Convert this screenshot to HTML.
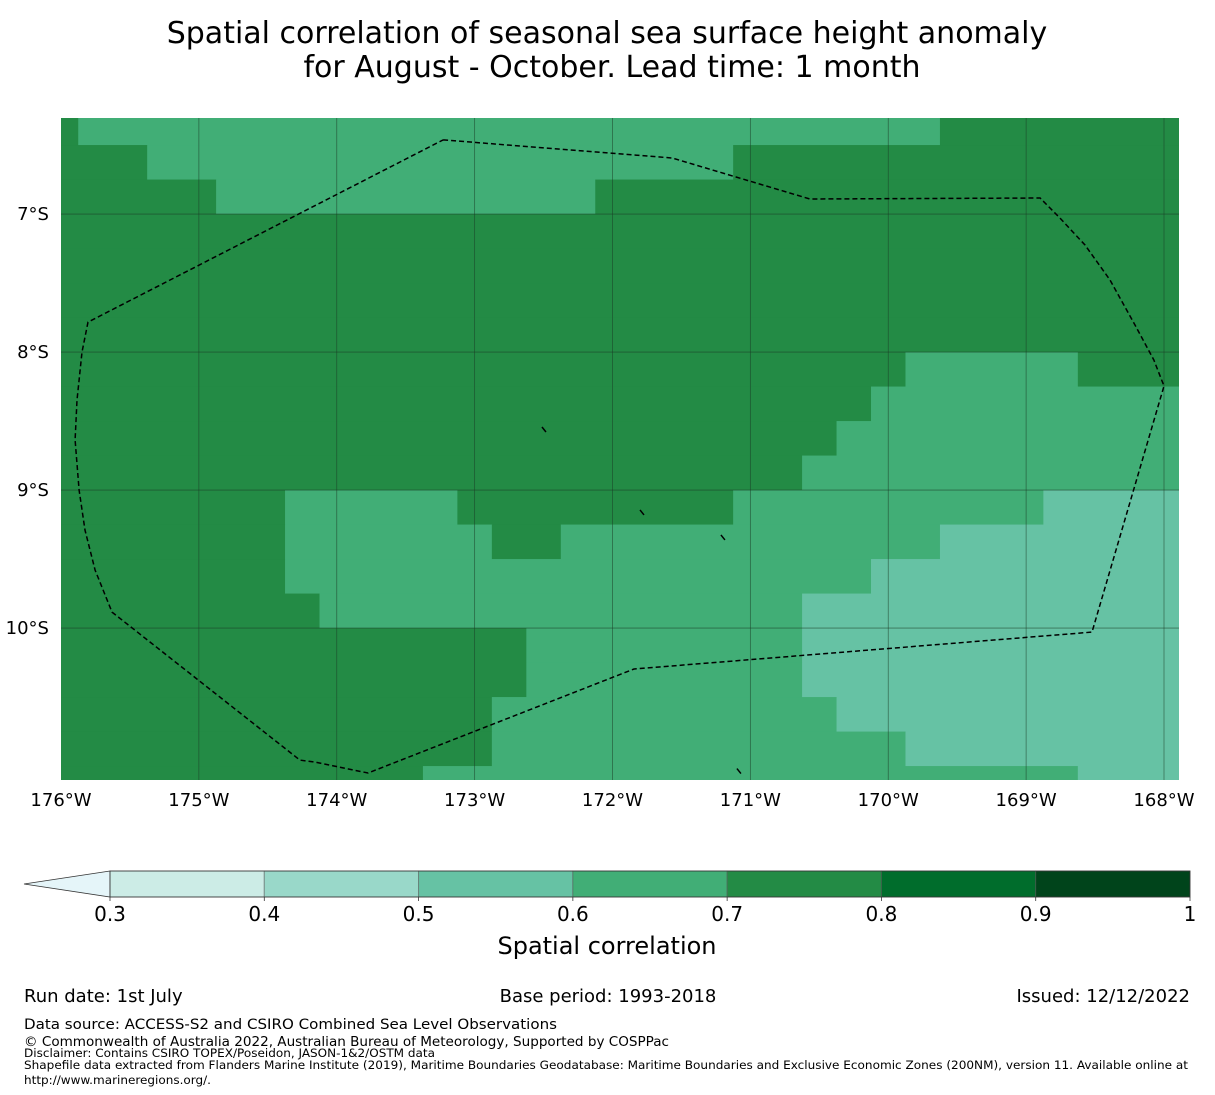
<!DOCTYPE html>
<html><head><meta charset="utf-8"><style>
html,body{margin:0;padding:0;background:#fff;}
svg{display:block;font-family:"DejaVu Sans","Liberation Sans",sans-serif;}
</style></head><body>
<svg id="fig" width="1215" height="1095" viewBox="0 0 1215 1095" xmlns="http://www.w3.org/2000/svg">
<g>
<text x="607" y="43" font-size="30" text-anchor="middle">Spatial correlation of seasonal sea surface height anomaly</text>
<text x="612" y="77" font-size="30" text-anchor="middle">for August - October. Lead time: 1 month</text>
</g>
<g id="map"></g>
<g id="grid"></g>
<path id="eez" fill="none" stroke="#000" stroke-width="1.5" stroke-dasharray="5,3"/>
<g id="islands"></g>
<g id="xticks"></g>
<g id="yticks"></g>
<g id="cbar"></g>
<text x="607" y="954" font-size="24" text-anchor="middle">Spatial correlation</text>
<g font-size="18">
<text x="24" y="1002">Run date: 1st July</text>
<text x="608" y="1002" text-anchor="middle">Base period: 1993-2018</text>
<text x="1190" y="1002" text-anchor="end">Issued: 12/12/2022</text>
<text x="24" y="1029" font-size="14.5" textLength="533" lengthAdjust="spacingAndGlyphs">Data source: ACCESS-S2 and CSIRO Combined Sea Level Observations</text>
<text x="24" y="1046" font-size="13" textLength="645" lengthAdjust="spacingAndGlyphs">© Commonwealth of Australia 2022, Australian Bureau of Meteorology, Supported by COSPPac</text>
<text x="24" y="1057" font-size="11.5" textLength="411" lengthAdjust="spacingAndGlyphs">Disclaimer: Contains CSIRO TOPEX/Poseidon, JASON-1&amp;2/OSTM data</text>
<text x="24" y="1069" font-size="11.5" textLength="1164" lengthAdjust="spacingAndGlyphs">Shapefile data extracted from Flanders Marine Institute (2019), Maritime Boundaries Geodatabase: Maritime Boundaries and Exclusive Economic Zones (200NM), version 11. Available online at</text>
<text x="24" y="1084" font-size="11.5" textLength="187" lengthAdjust="spacingAndGlyphs">http://www.marineregions.org/.</text>
</g>
</svg>
<script>
// ---- data ----
const lonTicks = [-176,-175,-174,-173,-172,-171,-170,-169,-168];
const lonLabels = ["176°W","175°W","174°W","173°W","172°W","171°W","170°W","169°W","168°W"];
const latTicks = [-7,-8,-9,-10];
const latLabels = ["7°S","8°S","9°S","10°S"];
const cbBounds = [0.3,0.4,0.5,0.6,0.7,0.8,0.9,1.0];
const cbLabels = ["0.3","0.4","0.5","0.6","0.7","0.8","0.9","1"];
const cbColors = ["#ccece6","#99d8c9","#66c2a4","#41ae76","#238b45","#006d2c","#00441b"];
// grid rows (top to bottom), runs of [end column index (0..33), class]
// D = 0.7-0.8, M = 0.6-0.7, L = 0.5-0.6
const gridRows = [
 [[1,'D'],[26,'M'],[33,'D']],
 [[3,'D'],[20,'M'],[33,'D']],
 [[5,'D'],[16,'M'],[33,'D']],
 [[33,'D']],
 [[33,'D']],
 [[33,'D']],
 [[33,'D']],
 [[25,'D'],[30,'M'],[33,'D']],
 [[24,'D'],[33,'M']],
 [[23,'D'],[33,'M']],
 [[22,'D'],[33,'M']],
 [[7,'D'],[12,'M'],[20,'D'],[29,'M'],[33,'L']],
 [[7,'D'],[13,'M'],[15,'D'],[26,'M'],[33,'L']],
 [[7,'D'],[24,'M'],[33,'L']],
 [[8,'D'],[22,'M'],[33,'L']],
 [[14,'D'],[22,'M'],[33,'L']],
 [[14,'D'],[22,'M'],[33,'L']],
 [[13,'D'],[23,'M'],[33,'L']],
 [[13,'D'],[25,'M'],[33,'L']],
 [[11,'D'],[30,'M'],[33,'L']]
];
const classColor = {D:"#238b45", M:"#41ae76", L:"#66c2a4"};
// EEZ boundary [lon, lat]
const eezLon = [-173.229,-171.568,-170.568,-168.899,-168.754,-168.573,-168.392,-168.210,-168.073,-168.0,-168.522,-171.844,-173.773,-174.158,-174.267,-175.630,-175.753,-175.826,-175.869,-175.898,-175.884,-175.848,-175.804,-173.229];
const eezLat = [-6.463,-6.594,-6.891,-6.884,-7.029,-7.224,-7.478,-7.804,-8.058,-8.246,-10.029,-10.297,-11.050,-10.971,-10.957,-9.884,-9.580,-9.290,-9.000,-8.637,-8.348,-8.0,-7.783,-6.463];
const islandLon = [-172.497,-171.786,-171.199,-171.083];
const islandLat = [-8.565,-9.166,-9.347,-11.04];

// ---- scales ----
const X0=61, X1=1179, Y0=118, Y1=780;
const lonMin=-176, lonMax=-168, lonPx=1164, latTop=-6.304, latBot=-11.101;
const sx = lon => X0 + (lon-lonMin)/(lonMax-lonMin)*(lonPx-X0);
const sy = lat => Y0 + (latTop-lat)/(latTop-latBot)*(Y1-Y0);
const colEdge = k => k<=0 ? X0 : (k>=33 ? X1 : sx(lonMin+0.125+(k-1)*0.25));
const rowEdge = r => r<=0 ? Y0 : (r>=20 ? Y1 : sy(-6.5-(r-1)*0.25));

const NS="http://www.w3.org/2000/svg";
function mk(tag, parent){const e=document.createElementNS(NS,tag);parent.appendChild(e);return e;}

const map=document.getElementById('map');
gridRows.forEach((runs,r)=>{
  let start=0;
  runs.forEach(([end,c])=>{
    const rc=mk('rect',map);
    
    
    const x=colEdge(start), x2=colEdge(end), y=rowEdge(r), y2=rowEdge(r+1);
    rc.setAttribute('x',x);rc.setAttribute('y',y);
    rc.setAttribute('width',Math.min(x2-x+0.5,X1-x));rc.setAttribute('height',Math.min(y2-y+0.5,Y1-y));
    rc.setAttribute('fill',classColor[c]);
    start=end;
  });
});

const grid=document.getElementById('grid');
lonTicks.forEach(l=>{
  if(l===lonMin) return;
  const ln=mk('line',grid);
  
  
  ln.setAttribute('x1',sx(l));ln.setAttribute('x2',sx(l));ln.setAttribute('y1',Y0);ln.setAttribute('y2',Y1);
  ln.setAttribute('stroke','#1a3a24');ln.setAttribute('stroke-opacity','0.6');ln.setAttribute('stroke-width','0.8');
});
latTicks.forEach(l=>{
  const ln=mk('line',grid);
  
  
  ln.setAttribute('x1',X0);ln.setAttribute('x2',X1);ln.setAttribute('y1',sy(l));ln.setAttribute('y2',sy(l));
  ln.setAttribute('stroke','#1a3a24');ln.setAttribute('stroke-opacity','0.6');ln.setAttribute('stroke-width','0.8');
});

document.getElementById('eez').setAttribute('d', eezLon.map((l,i)=>(i?'L':'M')+sx(l).toFixed(1)+','+sy(eezLat[i]).toFixed(1)).join(' '));

const isl=document.getElementById('islands');
islandLon.forEach((l,i)=>{
  const ln=mk('line',isl);
  
  
  const x=sx(l), y=sy(islandLat[i]);
  ln.setAttribute('x1',x-2);ln.setAttribute('y1',y-3);ln.setAttribute('x2',x+2);ln.setAttribute('y2',y+2);
  ln.setAttribute('stroke','#000');ln.setAttribute('stroke-width','1.5');
});

const xt=document.getElementById('xticks');
lonTicks.forEach((l,i)=>{
  const t=mk('text',xt);
  
  
  t.setAttribute('x',sx(l));t.setAttribute('y',806);t.setAttribute('font-size','18');t.setAttribute('text-anchor','middle');
  t.textContent=lonLabels[i];
});
const yt=document.getElementById('yticks');
latTicks.forEach((l,i)=>{
  const t=mk('text',yt);
  
  
  t.setAttribute('x',49);t.setAttribute('y',sy(l)+6);t.setAttribute('font-size','18');t.setAttribute('text-anchor','end');
  t.textContent=latLabels[i];
});

// colorbar
const cb=document.getElementById('cbar');
const CB0=110, CB1=1190, CBY=871, CBH=26;
const cx = v => CB0 + (v-cbBounds[0])/(cbBounds[cbBounds.length-1]-cbBounds[0])*(CB1-CB0);
const tri=mk('polygon',cb);


tri.setAttribute('points',`${CB0},${CBY} 24,${CBY+CBH/2} ${CB0},${CBY+CBH}`);
tri.setAttribute('fill','#e5f5f9');tri.setAttribute('stroke','#333');tri.setAttribute('stroke-width','0.8');
cbColors.forEach((c,i)=>{
  const r=mk('rect',cb);
  
  
  r.setAttribute('x',cx(cbBounds[i]));r.setAttribute('y',CBY);
  r.setAttribute('width',cx(cbBounds[i+1])-cx(cbBounds[i]));r.setAttribute('height',CBH);
  r.setAttribute('fill',c);r.setAttribute('stroke','#555');r.setAttribute('stroke-opacity','0.5');r.setAttribute('stroke-width','1');
});
const ob=mk('rect',cb);


ob.setAttribute('x',CB0);ob.setAttribute('y',CBY);ob.setAttribute('width',CB1-CB0);ob.setAttribute('height',CBH);
ob.setAttribute('fill','none');ob.setAttribute('stroke','#333');ob.setAttribute('stroke-width','0.8');
cbBounds.forEach((v,i)=>{
  const tk=mk('line',cb);
  
  
  tk.setAttribute('x1',cx(v));tk.setAttribute('x2',cx(v));tk.setAttribute('y1',CBY+CBH);tk.setAttribute('y2',CBY+CBH+4);
  tk.setAttribute('stroke','#333');tk.setAttribute('stroke-width','0.8');
  const t=mk('text',cb);
  
  
  t.setAttribute('x',cx(v));t.setAttribute('y',921);t.setAttribute('font-size','20');t.setAttribute('text-anchor','middle');
  t.textContent=cbLabels[i];
});
</script>
</body></html>
